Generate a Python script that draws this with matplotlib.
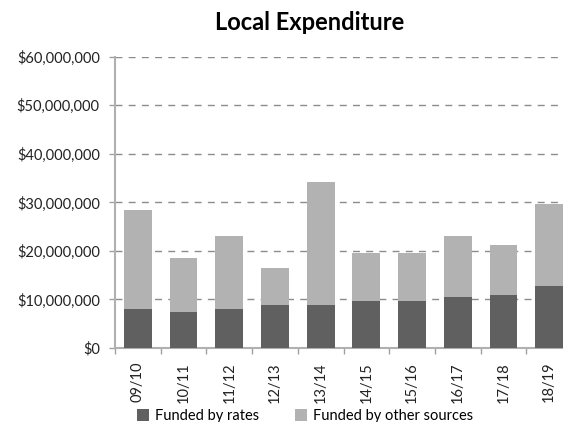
import numpy as np
import matplotlib
matplotlib.use('Agg')
import matplotlib.pyplot as plt
from matplotlib.ticker import FuncFormatter, FixedLocator

years = ['09/10', '10/11', '11/12', '12/13', '13/14', '14/15', '15/16', '16/17', '17/18', '18/19']
rates = [8.1, 7.5, 8.1, 8.8, 8.8, 9.6, 9.6, 10.6, 11.0, 12.7]          # $ millions
totals = [28.4, 18.5, 23.0, 16.4, 34.2, 19.5, 19.5, 23.0, 21.2, 29.7]   # $ millions
other = [t - r for t, r in zip(totals, rates)]

plt.rcParams['font.family'] = ['Lato', 'DejaVu Sans']

fig = plt.figure(figsize=(5.63, 4.22), dpi=100)
ax = fig.add_axes([115 / 563, 74 / 422, 457 / 563, 291.3 / 422])

x = np.arange(len(years))
rates_d = np.array(rates) * 1e6
other_d = np.array(other) * 1e6
ax.bar(x, rates_d, width=0.61, color='#606060', label='Funded by rates', zorder=3)
ax.bar(x, other_d, width=0.61, bottom=rates_d, color='#b2b2b2',
       label='Funded by other sources', zorder=3)

ax.set_xlim(-0.5, len(years) - 0.5)
ax.set_ylim(0, 60e6)
ax.set_yticks(np.arange(0, 60e6 + 1, 10e6))
ax.yaxis.set_major_formatter(FuncFormatter(lambda v, p: '${:,.0f}'.format(v)))
ax.yaxis.grid(True, linestyle=(0, (5, 4.5)), color='#8c8c8c', linewidth=1.0, zorder=0)

ax.set_xticks(x)
ax.set_xticklabels(years, rotation=90)
ax.xaxis.set_minor_locator(FixedLocator(np.arange(-0.5, len(years), 1)))
ax.tick_params(axis='x', which='major', length=0, pad=10, labelsize=10.5, colors='#222222')
ax.tick_params(axis='x', which='minor', length=4, width=1, color='#a0a0a0')
ax.tick_params(axis='y', length=4, width=1, color='#a0a0a0', pad=7,
               labelsize=10.5, labelcolor='#222222')

for s in ['top', 'right']:
    ax.spines[s].set_visible(False)
for s in ['left', 'bottom']:
    ax.spines[s].set_color('#b0b0b0')
    ax.spines[s].set_linewidth(1.5)

fig.text(310 / 563, 1 - 23 / 422, 'Local Expenditure', ha='center', va='center',
         fontsize=17, fontweight='bold')

fig.legend(loc='center', bbox_to_anchor=(305 / 563, 1 - 416 / 422), ncol=2, frameon=False,
           fontsize=10.5, handlelength=0.8, handleheight=0.8, handletextpad=0.4,
           columnspacing=2.5, borderaxespad=0)

fig.savefig('out.png', dpi=100)
